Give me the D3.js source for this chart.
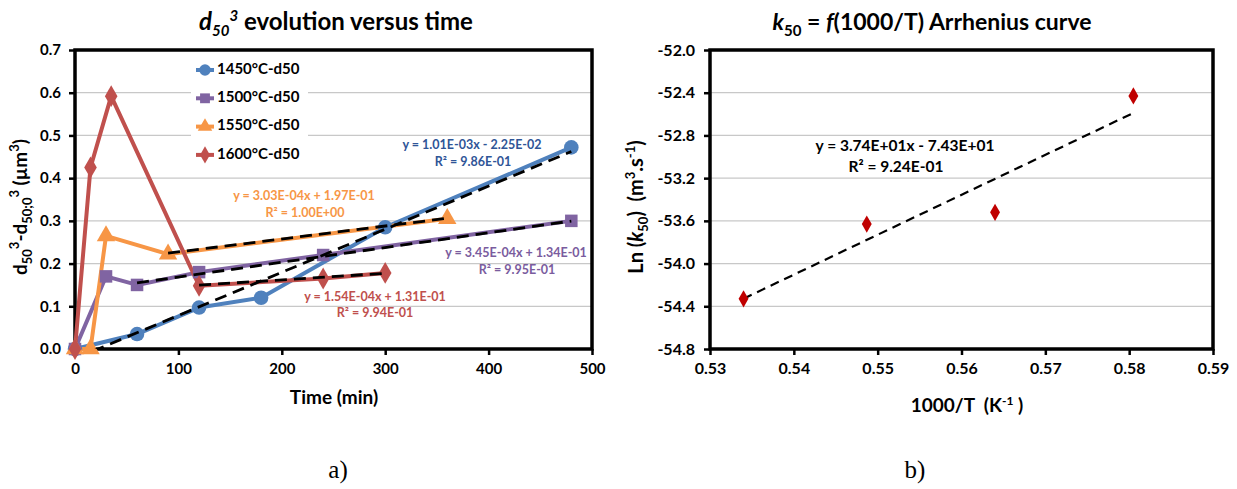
<!DOCTYPE html>
<html>
<head>
<meta charset="utf-8">
<script src="https://cdn.jsdelivr.net/npm/d3@7"></script>
<style>
  html, body { margin: 0; padding: 0; background: #fff; }
  svg text { font-family: Lato, "Liberation Sans", Arial, sans-serif; }
</style>
</head>
<body>
<svg id="chart" width="1237" height="489"></svg>
<script>
// ---------- DATA: panel a) ----------
const seriesNames = ["1450°C-d50", "1500°C-d50", "1550°C-d50", "1600°C-d50"];
const seriesColors = ["#4F81BD", "#8064A2", "#F79646", "#C0504D"];
const labelColors = ["#2F5597", "#7A5C9E", "#F79646", "#C0504D"];
const seriesMarkers = ["circle", "square", "triangle", "diamond"];

const time1450 = [0, 60, 120, 180, 300, 480];
const d1450    = [0, 0.035, 0.097, 0.12, 0.285, 0.472];
const time1500 = [0, 30, 60, 120, 240, 480];
const d1500    = [0, 0.17, 0.15, 0.18, 0.22, 0.30];
const time1550 = [0, 15, 30, 90, 360];
const d1550    = [0, 0, 0.265, 0.222, 0.305];
const time1600 = [0, 15, 35, 120, 240, 300];
const d1600    = [0, 0.425, 0.592, 0.148, 0.165, 0.178];

// linear trendlines: slope, intercept, x range
const trendSlope     = [1.01e-3, 3.45e-4, 3.03e-4, 1.54e-4];
const trendIntercept = [-2.25e-2, 1.34e-1, 1.97e-1, 1.31e-1];
const trendXStart    = [0, 60, 90, 120];
const trendXEnd      = [480, 480, 360, 300];
const trendEqText    = ["y = 1.01E-03x - 2.25E-02", "y = 3.45E-04x + 1.34E-01", "y = 3.03E-04x + 1.97E-01", "y = 1.54E-04x + 1.31E-01"];
const trendR2Text    = ["R² = 9.86E-01", "R² = 9.95E-01", "R² = 1.00E+00", "R² = 9.94E-01"];

const xTicksA = [0, 100, 200, 300, 400, 500];
const yTicksA = [0, 0.1, 0.2, 0.3, 0.4, 0.5, 0.6, 0.7];

// ---------- DATA: panel b) ----------
const invT  = [0.534, 0.5487, 0.564, 0.5805];
const lnK   = [-54.33, -53.63, -53.52, -52.43];
const arrSlope = 37.4, arrIntercept = -74.3;
const arrEq = "y = 3.74E+01x - 7.43E+01";
const arrR2 = "R² = 9.24E-01";
const xTicksB = [0.53, 0.54, 0.55, 0.56, 0.57, 0.58, 0.59];
const yTicksB = [-52.0, -52.4, -52.8, -53.2, -53.6, -54.0, -54.4, -54.8];

// ---------- DRAW ----------
const svg = d3.select("#chart");

function frame(g, x, y, xTicks, yTicks, xfmt, yfmt, yLabGap, fs) {
  const [x0, x1] = x.range(), [y0, y1] = y.range();
  g.append("g").selectAll("line").data(yTicks).join("line")
    .attr("x1", x0).attr("x2", x1)
    .attr("y1", d => y(d)).attr("y2", d => y(d))
    .attr("stroke", "#c8c8c8").attr("stroke-width", 1.2);
  const ax = g.append("g").attr("transform", `translate(0,${y0})`)
    .call(d3.axisBottom(x).tickValues(xTicks).tickFormat(xfmt).tickSize(6).tickPadding(8));
  const ay = g.append("g").attr("transform", `translate(${x0},0)`)
    .call(d3.axisLeft(y).tickValues(yTicks).tickFormat(yfmt).tickSize(6).tickPadding(yLabGap));
  [ax, ay].forEach(a => {
    a.select(".domain").remove();
    a.selectAll(".tick line").attr("stroke", "#000").attr("stroke-width", 2.5);
    a.selectAll(".tick text").attr("fill", "#000").style("font-size", fs + "px").style("font-weight", "bold");
  });
  g.append("rect").attr("x", x0).attr("y", y1).attr("width", x1 - x0).attr("height", y0 - y1)
    .attr("fill", "none").attr("stroke", "#000").attr("stroke-width", 3.5);
}

function marker(type, size) {
  if (type === "circle") return d3.symbol(d3.symbolCircle, size * size * 0.85)();
  if (type === "square") return d3.symbol(d3.symbolSquare, size * size * 0.8)();
  if (type === "triangle") return d3.symbol(d3.symbolTriangle, size * size * 0.75)();
  return d3.symbol(d3.symbolDiamond, size * size * 0.7)();
}

// ----- panel a -----
const gA = svg.append("g");
const xA = d3.scaleLinear().domain([0, 500]).range([75, 592]);
const yA = d3.scaleLinear().domain([0, 0.7]).range([349, 50]);
frame(gA, xA, yA, xTicksA, yTicksA, d3.format("d"), d => d.toFixed(1), 8, 15);

svg.append("defs").append("clipPath").attr("id", "clipA")
  .append("rect").attr("x", 75).attr("y", 50).attr("width", 517).attr("height", 299);

const allSeries = [
  time1450.map((t, i) => [t, d1450[i]]),
  time1500.map((t, i) => [t, d1500[i]]),
  time1550.map((t, i) => [t, d1550[i]]),
  time1600.map((t, i) => [t, d1600[i]])
];
const lineA = d3.line().x(d => xA(d[0])).y(d => yA(d[1]));
const plotA = gA.append("g");
allSeries.forEach((s, i) => {
  plotA.append("path").datum(s).attr("d", lineA)
    .attr("fill", "none").attr("stroke", seriesColors[i]).attr("stroke-width", 4)
    .attr("stroke-linejoin", "round");
});
allSeries.forEach((s, i) => {
  plotA.append("g").selectAll("path").data(s).join("path")
    .attr("transform", d => `translate(${xA(d[0])},${yA(d[1])})`)
    .attr("d", marker(seriesMarkers[i], 14))
    .attr("fill", seriesColors[i]);
});
const trendG = gA.append("g").attr("clip-path", "url(#clipA)");
trendSlope.forEach((m, i) => {
  const pts = [trendXStart[i], trendXEnd[i]].map(t => [t, m * t + trendIntercept[i]]);
  trendG.append("path").datum(pts).attr("d", lineA)
    .attr("fill", "none").attr("stroke", "#000").attr("stroke-width", 2.8)
    .attr("stroke-dasharray", "12,7");
});
const eqPos = [[472, 146], [516, 254], [304, 197], [375, 298]];
const r2Pos = [[473, 163], [517, 271], [305, 214], [375, 314]];
trendEqText.forEach((t, i) => {
  gA.append("text").attr("x", eqPos[i][0]).attr("y", eqPos[i][1]).attr("text-anchor", "middle")
    .attr("dominant-baseline", "middle").attr("fill", labelColors[i])
    .style("font-size", "12.5px").style("font-weight", "bold").text(t);
  gA.append("text").attr("x", r2Pos[i][0]).attr("y", r2Pos[i][1]).attr("text-anchor", "middle")
    .attr("dominant-baseline", "middle").attr("fill", labelColors[i])
    .style("font-size", "12.5px").style("font-weight", "bold").text(trendR2Text[i]);
});
const leg = gA.append("g");
leg.append("rect").attr("x", 191).attr("y", 57).attr("width", 117).attr("height", 110).attr("fill", "#fff");
seriesNames.forEach((n, i) => {
  const yy = 70 + i * 28.3;
  leg.append("line").attr("x1", 196).attr("x2", 214).attr("y1", yy).attr("y2", yy)
    .attr("stroke", seriesColors[i]).attr("stroke-width", 4);
  leg.append("path").attr("transform", `translate(205,${yy})`).attr("d", marker(seriesMarkers[i], 11))
    .attr("fill", seriesColors[i]);
  leg.append("text").attr("x", 217).attr("y", yy).attr("dominant-baseline", "middle")
    .style("font-size", "15px").style("font-weight", "bold").attr("fill", "#000").text(n);
});
const tA = svg.append("text").attr("x", 336).attr("y", 30).attr("text-anchor", "middle")
  .style("font-size", "24px").style("font-weight", "bold");
tA.append("tspan").style("font-style", "italic").text("d");
tA.append("tspan").style("font-style", "italic").style("font-size", "15px").attr("dy", 6).text("50");
tA.append("tspan").style("font-style", "italic").style("font-size", "15px").attr("dy", -15).text("3");
tA.append("tspan").attr("dy", 9).text(" evolution versus time");

svg.append("text").attr("x", 334).attr("y", 404).attr("text-anchor", "middle")
  .style("font-size", "19px").style("font-weight", "bold").text("Time (min)");

const yTA = svg.append("text").attr("transform", "translate(27,207) rotate(-90)").attr("text-anchor", "middle")
  .style("font-size", "19px").style("font-weight", "bold");
yTA.append("tspan").text("d");
yTA.append("tspan").style("font-size", "13px").attr("dy", 5).text("50");
yTA.append("tspan").style("font-size", "13px").attr("dy", -13).text("3");
yTA.append("tspan").attr("dy", 8).text("-d");
yTA.append("tspan").style("font-size", "13px").attr("dy", 5).text("50;0");
yTA.append("tspan").style("font-size", "13px").attr("dy", -13).text("3");
yTA.append("tspan").attr("dy", 8).text(" (µm");
yTA.append("tspan").style("font-size", "13px").attr("dy", -8).text("3");
yTA.append("tspan").attr("dy", 8).text(")");

// ----- panel b -----
const gB = svg.append("g");
const xB = d3.scaleLinear().domain([0.53, 0.59]).range([710, 1213]);
const yB = d3.scaleLinear().domain([-54.8, -52.0]).range([349, 50]);
frame(gB, xB, yB, xTicksB, yTicksB, d => d.toFixed(2), d => d.toFixed(1), 9, 16);

const lineB = d3.line().x(d => xB(d[0])).y(d => yB(d[1]));
const trB = [invT[0], invT[invT.length - 1]].map(x => [x, arrSlope * x + arrIntercept]);
gB.append("path").datum(trB).attr("d", lineB).attr("fill", "none")
  .attr("stroke", "#000").attr("stroke-width", 2.2).attr("stroke-dasharray", "9,6");
gB.append("g").selectAll("path").data(invT.map((x, i) => [x, lnK[i]])).join("path")
  .attr("transform", d => `translate(${xB(d[0])},${yB(d[1])})`)
  .attr("d", d3.symbol(d3.symbolDiamond, 85)())
  .attr("fill", "#C00000");
gB.append("text").attr("x", 905).attr("y", 147).attr("text-anchor", "middle").attr("dominant-baseline", "middle")
  .style("font-size", "15.5px").style("font-weight", "bold").text(arrEq);
gB.append("text").attr("x", 896).attr("y", 168).attr("text-anchor", "middle").attr("dominant-baseline", "middle")
  .style("font-size", "15.5px").style("font-weight", "bold").text(arrR2);

const tB = svg.append("text").attr("x", 932).attr("y", 30).attr("text-anchor", "middle")
  .style("font-size", "23px").style("font-weight", "bold");
tB.append("tspan").style("font-style", "italic").text("k");
tB.append("tspan").style("font-size", "15px").attr("dy", 6).text("50");
tB.append("tspan").attr("dy", -6).text(" = ");
tB.append("tspan").style("font-style", "italic").text("f");
tB.append("tspan").text("(1000/T) Arrhenius curve");

const xTB = svg.append("text").attr("x", 967).attr("y", 412).attr("text-anchor", "middle")
  .style("font-size", "19px").style("font-weight", "bold");
xTB.append("tspan").text("1000/T\u00A0\u00A0(K");
xTB.append("tspan").style("font-size", "12px").attr("dy", -7).text("-1");
xTB.append("tspan").attr("dy", 7).text("\u00A0)");

const yTB = svg.append("text").attr("transform", "translate(643,207) rotate(-90)").attr("text-anchor", "middle")
  .style("font-size", "20px").style("font-weight", "bold");
yTB.append("tspan").text("Ln (");
yTB.append("tspan").style("font-style", "italic").text("k");
yTB.append("tspan").style("font-size", "13px").attr("dy", 5).text("50");
yTB.append("tspan").attr("dy", -5).text(")\u00A0\u00A0(m");
yTB.append("tspan").style("font-size", "13px").attr("dy", -8).text("3");
yTB.append("tspan").attr("dy", 8).text(".s");
yTB.append("tspan").style("font-size", "13px").attr("dy", -8).text("-1");
yTB.append("tspan").attr("dy", 8).text(")");

svg.append("text").attr("x", 338).attr("y", 478).attr("text-anchor", "middle")
  .style("font-family", "'Liberation Serif', 'DejaVu Serif', serif").style("font-size", "25px").text("a)");
svg.append("text").attr("x", 915).attr("y", 478).attr("text-anchor", "middle")
  .style("font-family", "'Liberation Serif', 'DejaVu Serif', serif").style("font-size", "25px").text("b)");
</script>
</body>
</html>
